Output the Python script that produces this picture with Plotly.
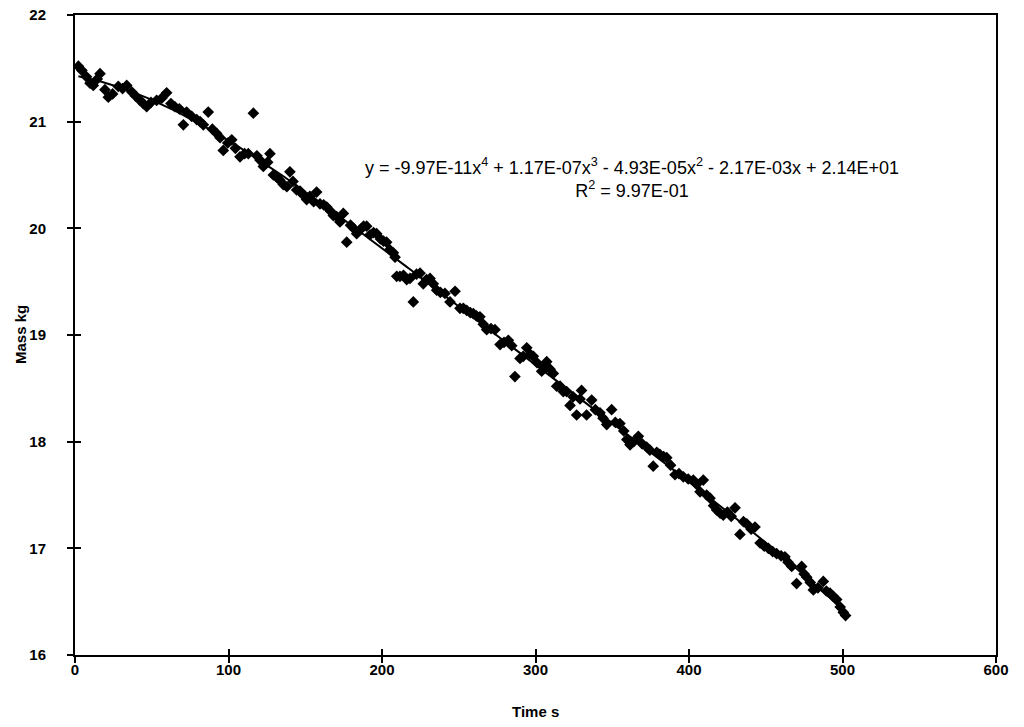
import numpy as np
import plotly.graph_objects as go

time_s = [2.2, 4.5, 7.5, 9.8, 11.9, 14.5, 16.3, 19.5, 21.7, 24.5, 28.2, 31.0, 33.7, 36.9, 39.5,
          42.3, 44.5, 46.7, 49.5, 53.2, 56.5, 59.7, 62.5, 65.1, 68.0, 70.6, 72.7, 76.0, 79.3, 81.5,
          83.6, 86.8, 89.5, 92.3, 94.5, 96.6, 99.5, 102.1, 104.5, 107.5, 110.5, 112.9, 116.2, 118.5,
          120.5, 122.7, 125.5, 127.0, 129.2, 131.4, 133.5, 135.7, 138.0, 140.0, 142.0, 144.4, 146.6,
          148.8, 150.9, 153.0, 155.5, 157.4, 159.6, 162.0, 164.0, 166.5, 168.3, 170.5, 172.6, 174.8,
          177.0, 179.5, 181.5, 183.5, 186.0, 188.0, 190.0, 192.2, 194.5, 196.5, 199.0, 201.0, 203.0,
          205.0, 207.4, 208.5, 209.6, 211.7, 214.0, 216.1, 218.2, 220.4, 222.5, 224.8, 226.9, 229.0,
          231.3, 233.4, 235.6, 238.0, 241.0, 244.3, 247.6, 250.8, 253.0, 255.2, 257.5, 259.5, 261.5,
          263.8, 266.0, 268.2, 271.0, 273.6, 276.9, 279.5, 282.3, 284.5, 286.6, 289.9, 292.0, 294.3,
          296.5, 298.6, 301.0, 304.0, 305.5, 307.3, 309.5, 311.6, 313.8, 316.0, 318.1, 320.3, 322.5,
          324.5, 326.8, 329.0, 330.0, 333.3, 336.6, 339.0, 342.0, 344.0, 346.4, 349.6, 352.0, 355.0,
          357.5, 359.5, 361.6, 364.0, 367.0, 369.5, 372.4, 374.5, 376.7, 379.0, 381.0, 383.5, 385.5,
          388.0, 390.9, 393.5, 396.3, 399.5, 402.8, 405.0, 407.2, 409.3, 411.5, 413.7, 416.0, 418.0,
          420.3, 422.3, 425.0, 427.5, 430.0, 433.2, 435.5, 437.6, 440.5, 443.0, 446.3, 449.0, 451.7,
          454.5, 457.1, 460.0, 462.5, 464.5, 466.9, 470.1, 473.4, 475.0, 476.7, 479.0, 481.0, 484.0,
          487.5, 489.5, 491.9, 494.0, 496.2, 498.5, 500.5, 502.0]

mass_kg = [21.52, 21.48, 21.42, 21.36, 21.34, 21.40, 21.45, 21.30, 21.23, 21.26, 21.33, 21.31, 21.34, 21.28, 21.24,
           21.20, 21.17, 21.14, 21.18, 21.20, 21.22, 21.27, 21.17, 21.14, 21.12, 20.97, 21.09, 21.05, 21.02, 21.00,
           20.97, 21.09, 20.93, 20.89, 20.85, 20.73, 20.80, 20.83, 20.75, 20.67, 20.70, 20.70, 21.08, 20.68,
           20.64, 20.58, 20.62, 20.70, 20.50, 20.48, 20.45, 20.41, 20.39, 20.53, 20.44, 20.36, 20.35,
           20.31, 20.27, 20.30, 20.25, 20.34, 20.23, 20.22, 20.20, 20.16, 20.12, 20.11, 20.06, 20.14,
           19.87, 20.03, 20.00, 19.95, 19.99, 20.02, 20.02, 19.94, 19.96, 19.95, 19.90, 19.88, 19.87,
           19.80, 19.77, 19.73, 19.55, 19.55, 19.56, 19.52, 19.53, 19.31, 19.57, 19.58, 19.48, 19.52,
           19.53, 19.48, 19.42, 19.40, 19.39, 19.31, 19.41, 19.25, 19.25, 19.23, 19.21, 19.20, 19.18,
           19.17, 19.10, 19.05, 19.06, 19.05, 18.91, 18.93, 18.95, 18.90, 18.61, 18.78, 18.80, 18.88,
           18.82, 18.80, 18.74, 18.66, 18.70, 18.75, 18.68, 18.64, 18.52, 18.52, 18.47, 18.47, 18.34,
           18.42, 18.25, 18.40, 18.48, 18.25, 18.39, 18.30, 18.27, 18.22, 18.16, 18.30, 18.18, 18.17,
           18.10, 18.02, 17.97, 18.00, 18.05, 17.98, 17.95, 17.92, 17.77, 17.90, 17.88, 17.86, 17.85,
           17.78, 17.69, 17.70, 17.67, 17.65, 17.64, 17.60, 17.53, 17.64, 17.50, 17.47, 17.40, 17.36,
           17.33, 17.31, 17.34, 17.30, 17.38, 17.13, 17.25, 17.23, 17.18, 17.20, 17.05, 17.02, 17.00,
           16.97, 16.95, 16.93, 16.92, 16.87, 16.83, 16.67, 16.83, 16.76, 16.73, 16.68, 16.61, 16.63,
           16.69, 16.60, 16.58, 16.55, 16.52, 16.45, 16.40, 16.37]

x_ticks = [0, 100, 200, 300, 400, 500, 600]
y_ticks = [16, 17, 18, 19, 20, 21, 22]
x_range = [0, 600]
y_range = [16, 22]

equation_text = ("y = -9.97E-11x<sup>4</sup> + 1.17E-07x<sup>3</sup> - 4.93E-05x<sup>2</sup>"
                 " - 2.17E-03x + 2.14E+01<br>R<sup>2</sup> = 9.97E-01")

# 4th-order polynomial trend line fitted to the data (as the spreadsheet did)
coef = np.polyfit(time_s, mass_kg, 4)
fit_x = np.linspace(min(time_s), max(time_s), 200)
fit_y = np.polyval(coef, fit_x)

FONT = "Liberation Sans, Arial, sans-serif"
tickfont = dict(family=FONT, size=15, color="black", weight="bold")

fig = go.Figure()
fig.add_trace(go.Scatter(
    x=time_s, y=mass_kg, mode="markers",
    marker=dict(symbol="diamond", size=9, color="black", line=dict(width=0)),
    showlegend=False, hoverinfo="x+y"))
fig.add_trace(go.Scatter(
    x=fit_x, y=fit_y, mode="lines", xaxis="x2", yaxis="y2",
    line=dict(color="black", width=2),
    showlegend=False, hoverinfo="skip"))

fig.add_annotation(
    x=363, y=20.47, xref="x", yref="y",
    text=equation_text, showarrow=False, align="center",
    font=dict(family=FONT, size=18, color="black"))

# axis titles (paper coords are relative to the plot area)
fig.add_annotation(x=0.4995, y=-0.0875, xref="paper", yref="paper",
                   xanchor="center", yanchor="middle",
                   text="<b>Time s</b>", showarrow=False,
                   font=dict(family=FONT, size=15, color="black"))
fig.add_annotation(x=-0.0597, y=0.5, xref="paper", yref="paper",
                   xanchor="center", yanchor="middle",
                   text="<b>Mass kg</b>", showarrow=False, textangle=-90,
                   font=dict(family=FONT, size=15, color="black"))

common = dict(showgrid=False, zeroline=False, automargin=False)

fig.update_layout(
    width=1024, height=727,
    margin=dict(l=75, r=28, t=15, b=72),
    paper_bgcolor="white", plot_bgcolor="white",
    font=dict(family=FONT, color="black"),
    xaxis=dict(range=x_range, tickvals=x_ticks, showline=True, linecolor="black", linewidth=2,
               mirror=True, ticks="outside", ticklen=6, tickwidth=1.5, tickcolor="black",
               tickfont=tickfont, ticklabelstandoff=-6, ticklabeloverflow="allow", **common),
    yaxis=dict(range=y_range, tickvals=y_ticks, showline=True, linecolor="black", linewidth=2,
               mirror=True, ticks="outside", ticklen=6, tickwidth=1.5, tickcolor="black",
               tickfont=tickfont, ticklabelstandoff=18, ticklabeloverflow="allow", **common),
    xaxis2=dict(range=x_range, tickvals=x_ticks, overlaying="x", side="bottom",
                showline=False, ticks="inside", ticklen=6, tickwidth=1.5, tickcolor="black",
                showticklabels=False, **common),
    yaxis2=dict(range=y_range, tickvals=y_ticks, overlaying="y", side="left",
                showline=False, ticks="inside", ticklen=6, tickwidth=1.5, tickcolor="black",
                showticklabels=False, **common),
)

# remove the default page margin so the figure fills the window exactly
fig.write_html("out.html",
               config={"displayModeBar": False},
               post_script="document.body.style.margin='0px';document.body.style.overflow='hidden';")
